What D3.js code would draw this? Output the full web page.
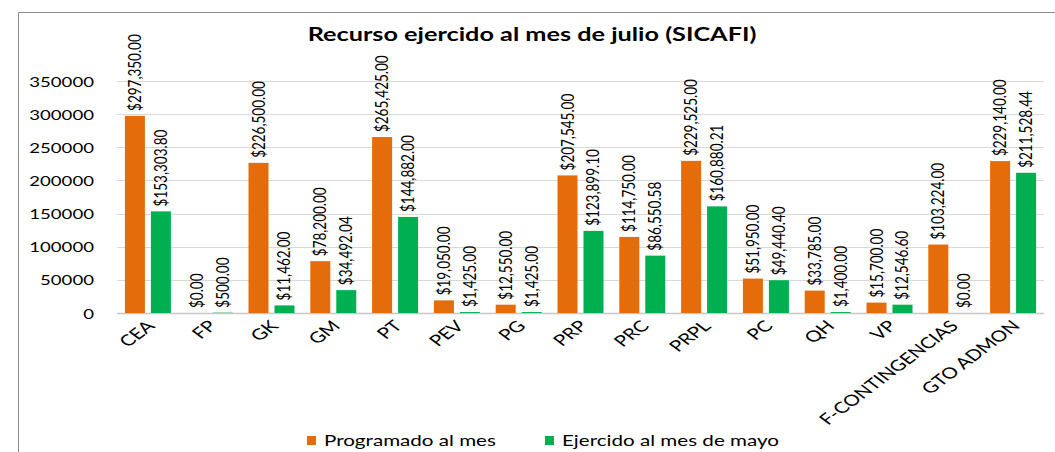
<!DOCTYPE html>
<html>
  <head>
    <meta charset="utf-8">
    <title>Recurso ejercido al mes de julio (SICAFI)</title>
    <script src="https://cdn.jsdelivr.net/npm/d3@7"></script>
    <style>
      body { margin: 0; background: #fff; }
      svg { display: block; }
      text { font-family: Lato, "Open Sans", sans-serif; fill: #000; }
      .title { font-weight: bold; font-size: 19px; }
      .ytick { font-size: 14px; }
      .xlabel { font-size: 15.5px; }
      .value { font-size: 13.5px; }
      .legend text { font-size: 15.5px; }
    </style>
  </head>

  <body>
    <svg id="chart" width="1055" height="452"></svg>

    <script>
      // data
      const categories = ["CEA", "FP", "GK", "GM", "PT", "PEV", "PG", "PRP", "PRC", "PRPL", "PC", "QH", "VP", "F-CONTINGENCIAS", "GTO ADMON"];
      const programado = [297350, 0, 226500, 78200, 265425, 19050, 12550, 207545, 114750, 229525, 51950, 33785, 15700, 103224, 229140];
      const ejercido = [153303.80, 500, 11462, 34492.04, 144882, 1425, 1425, 123899.10, 86550.58, 160880.21, 49440.40, 1400, 12546.60, 0, 211528.44];
      const seriesNames = ["Programado al mes", "Ejercido al mes de mayo"];
      const yTicks = [0, 50000, 100000, 150000, 200000, 250000, 300000, 350000];

      const colours = ["#E46C0A", "#00B050"];
      const series = [programado, ejercido];

      // the original picture is stretched sideways, so text gets the same stretch
      const S = 1.33;

      const svg = d3.select("#chart");

      // frame (left and top edges only, the rest falls outside the picture)
      svg.append("path")
        .attr("d", "M18.5,452V12.5H1055")
        .attr("fill", "none")
        .attr("stroke", "#8c8c8c");

      svg.append("text")
        .attr("class", "title")
        .attr("text-anchor", "middle")
        .attr("transform", "translate(532,41) scale(" + S + ",1)")
        .text("Recurso ejercido al mes de julio (SICAFI)");

      // scales
      const x0 = d3.scaleBand()
        .domain(categories)
        .range([117, 1044])
        .paddingInner(0.256)
        .paddingOuter(0.128);
      const x1 = d3.scaleBand()
        .domain([0, 1])
        .range([0, x0.bandwidth()])
        .paddingInner(0.23);
      const y = d3.scaleLinear()
        .domain([0, 350000])
        .range([313, 81]);

      // gridlines
      svg.append("g")
        .selectAll("line")
        .data(yTicks)
        .join("line")
          .attr("x1", 117)
          .attr("x2", 1044)
          .attr("y1", d => Math.round(y(d)) + 0.5)
          .attr("y2", d => Math.round(y(d)) + 0.5)
          .attr("stroke", d => d === 0 ? "#c8c8c8" : "#d9d9d9")
          .attr("stroke-width", d => d === 0 ? 1.5 : 1);

      // y axis labels
      const yAxis = d3.axisLeft(y)
        .tickValues(yTicks)
        .tickFormat(d3.format("d"))
        .tickSize(0)
        .tickPadding(0);
      svg.append("g")
        .attr("transform", "translate(94,0)")
        .call(yAxis)
        .call(g => g.select(".domain").remove())
        .selectAll("text")
          .attr("class", "ytick")
          .attr("x", null)
          .attr("dy", "0.36em")
          .attr("transform", "scale(" + S + ",1)");

      // bars
      const groups = svg.append("g")
        .selectAll("g")
        .data(categories)
        .join("g")
          .attr("transform", d => "translate(" + x0(d) + ",0)");

      const fmt = d3.format("$,.2f");

      series.forEach(function(values, s) {
        groups.append("rect")
          .attr("x", x1(s))
          .attr("width", x1.bandwidth())
          .attr("y", (d, i) => y(values[i]))
          .attr("height", (d, i) => y(0) - y(values[i]))
          .attr("fill", colours[s]);

        groups.append("text")
          .attr("class", "value")
          .attr("transform", (d, i) => "translate(" + (x1(s) + x1.bandwidth() / 2 + 6) + "," + (y(values[i]) - 5) + ") scale(" + S + ",1) rotate(-90)")
          .text((d, i) => fmt(values[i]));
      });

      // category labels
      svg.append("g")
        .selectAll("text")
        .data(categories)
        .join("text")
          .attr("class", "xlabel")
          .attr("text-anchor", "end")
          .attr("transform", d => "translate(" + (x0(d) + x0.bandwidth() / 2 + 8) + ",327) scale(" + S + ",1) rotate(-45)")
          .text(d => d);

      // legend
      const legend = svg.append("g")
        .attr("class", "legend")
        .attr("transform", "translate(307,436)");
      const legendX = [0, 238];
      seriesNames.forEach(function(name, i) {
        legend.append("rect")
          .attr("x", legendX[i])
          .attr("y", 0)
          .attr("width", 9)
          .attr("height", 9)
          .attr("fill", colours[i]);
        legend.append("text")
          .attr("transform", "translate(" + (legendX[i] + 17) + ",10) scale(" + S + ",1)")
          .text(name);
      });
    </script>
  </body>
</html>
